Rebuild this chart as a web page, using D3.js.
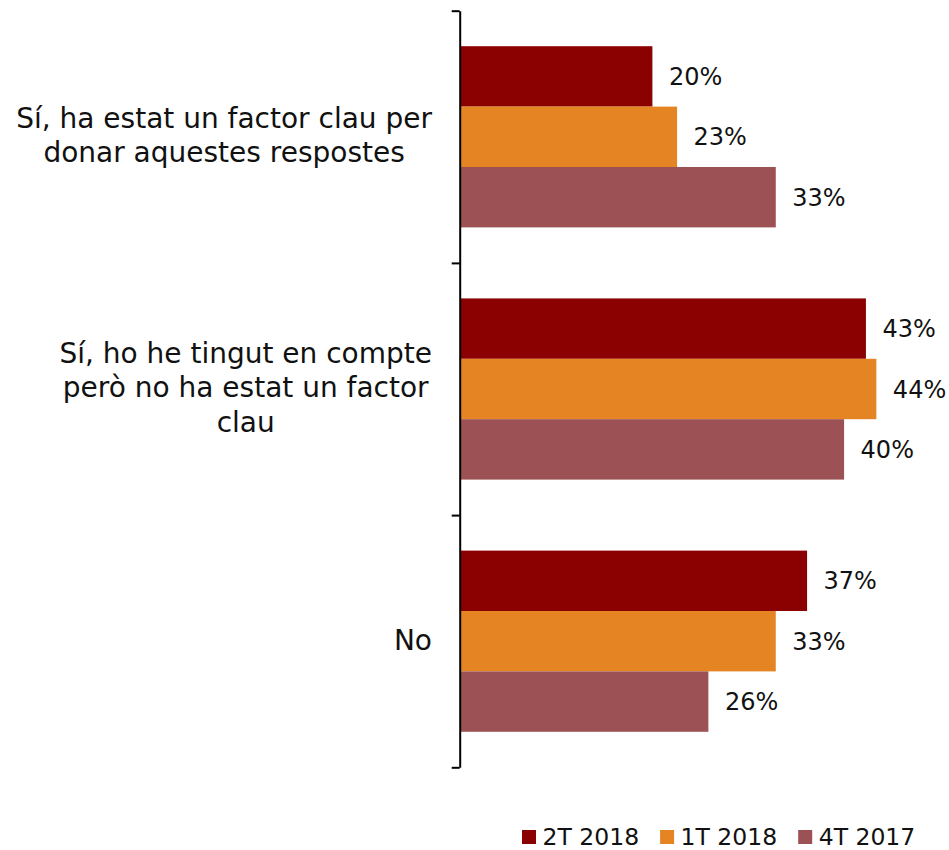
<!DOCTYPE html>
<html>
<head>
<meta charset="utf-8">
<script src="https://cdn.jsdelivr.net/npm/d3@7"></script>
<style>
  html, body { margin: 0; padding: 0; background: #fff; }
  svg { display: block; }
  text { font-family: "DejaVu Sans", sans-serif; fill: #111; }
</style>
</head>
<body>
<svg id="chart" width="949" height="850"></svg>
<script>
// ---- data ----
const categories = ["cat1", "cat2", "cat3"];
const categoryLines = [
  ["Sí, ha estat un factor clau per", "donar aquestes respostes"],
  ["Sí, ho he tingut en compte", "però no ha estat un factor", "clau"],
  ["No"]
];
const seriesNames = ["2T 2018", "1T 2018", "4T 2017"];
const values2T2018 = [0.202, 0.427, 0.365];
const values1T2018 = [0.228, 0.438, 0.332];
const values4T2017 = [0.332, 0.404, 0.261];
const seriesColors = ["#8B0000", "#E58423", "#9C5254"];

const seriesValues = [values2T2018, values1T2018, values4T2017];

// ---- layout ----
const svg = d3.select("#chart");
const plotTop = 10.7, plotBottom = 767.3;
const plotLeft = 460.7, plotRight = 935.2;
const catFont = 28;
const numFont = 24;

const x = d3.scaleLinear().domain([0, 0.5]).range([plotLeft, plotRight]);
const y = d3.scaleBand().domain(categories).range([plotTop, plotBottom]).paddingInner(0).paddingOuter(0);
const ySub = d3.scaleBand().domain(seriesNames).range([0, y.bandwidth()]).paddingInner(0).paddingOuter(0.588);
const color = d3.scaleOrdinal().domain(seriesNames).range(seriesColors);
const fmt = d3.format(".0%");

const rows = [];
categories.forEach((c, ci) => {
  seriesNames.forEach((s, si) => {
    rows.push({ cat: c, series: s, value: seriesValues[si][ci] });
  });
});

// bars
svg.append("g").selectAll("rect").data(rows).join("rect")
  .attr("x", x(0))
  .attr("y", d => y(d.cat) + ySub(d.series))
  .attr("width", d => x(d.value) - x(0))
  .attr("height", ySub.bandwidth())
  .attr("fill", d => color(d.series));

// data labels
svg.append("g").selectAll("text").data(rows).join("text")
  .attr("x", d => x(d.value) + 16.5)
  .attr("y", d => y(d.cat) + ySub(d.series) + ySub.bandwidth() / 2)
  .attr("dy", "0.36em")
  .style("font-size", numFont + "px")
  .text(d => fmt(d.value));

// axis with ticks at category boundaries
const yEdge = d3.scaleLinear().domain([0, categories.length]).range([plotTop, plotBottom]);
const axisG = svg.append("g")
  .attr("transform", `translate(${plotLeft - 1},0)`)
  .call(d3.axisLeft(yEdge).ticks(categories.length).tickSize(8).tickSizeOuter(0).tickFormat(""));
axisG.select(".domain").attr("stroke", "#000").attr("stroke-width", 2);
axisG.selectAll(".tick line").attr("stroke", "#000").attr("stroke-width", 2);

// category labels (centered lines in a block right-aligned near the axis)
const labelRight = 432;
const lineH = 34.4;
categories.forEach((c, ci) => {
  const lines = categoryLines[ci];
  const g = svg.append("g");
  const cy = y(c) + y.bandwidth() / 2;
  const texts = g.selectAll("text").data(lines).join("text")
    .style("font-size", catFont + "px")
    .attr("text-anchor", "middle")
    .attr("dy", "0.3em")
    .text(d => d);
  let maxW = 0;
  texts.each(function () { maxW = Math.max(maxW, this.getComputedTextLength()); });
  const cx = labelRight - maxW / 2;
  texts.attr("x", cx)
    .attr("y", (d, i) => cy + (i - (lines.length - 1) / 2) * lineH);
});

// legend
const legend = svg.append("g");
let lx = 522;
const ly = 837;
seriesNames.forEach(s => {
  legend.append("rect")
    .attr("x", lx).attr("y", ly - 7)
    .attr("width", 14).attr("height", 14)
    .attr("fill", color(s));
  const t = legend.append("text")
    .attr("x", lx + 20.5).attr("y", ly)
    .attr("dy", "0.33em")
    .style("font-size", "23.5px")
    .text(s);
  lx += 20.5 + t.node().getComputedTextLength() + 21;
});
</script>
</body>
</html>
